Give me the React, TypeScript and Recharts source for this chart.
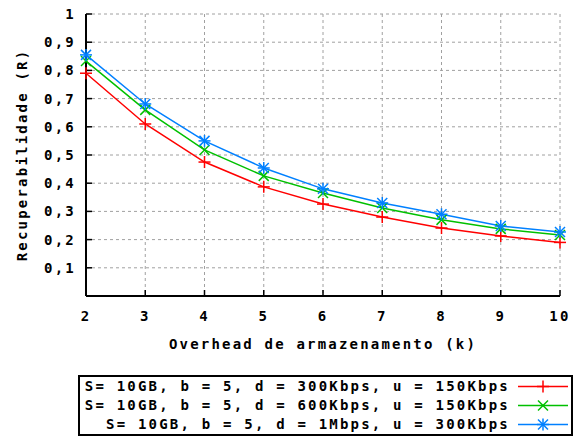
import React from 'react';
import {
  LineChart,
  Line,
  XAxis,
  YAxis,
  CartesianGrid,
} from 'recharts';

const overhead = [2, 3, 4, 5, 6, 7, 8, 9, 10];
const r300k = [0.79, 0.61, 0.475, 0.387, 0.326, 0.28, 0.241, 0.213, 0.19];
const r600k = [0.833, 0.66, 0.518, 0.426, 0.365, 0.312, 0.27, 0.238, 0.216];
const r1m = [0.855, 0.681, 0.55, 0.454, 0.38, 0.33, 0.29, 0.248, 0.227];
const yTicks = [0.1, 0.2, 0.3, 0.4, 0.5, 0.6, 0.7, 0.8, 0.9, 1];
const seriesNames = [
  'S= 10GB, b = 5, d = 300Kbps, u = 150Kbps',
  'S= 10GB, b = 5, d = 600Kbps, u = 150Kbps',
  'S= 10GB, b = 5, d = 1Mbps, u = 300Kbps',
];

const data = overhead.map((k, i) => ({
  k,
  a: r300k[i],
  b: r600k[i],
  c: r1m[i],
}));

const font = {
  fontFamily: '"DejaVu Sans Mono", monospace',
  fontWeight: 'bold',
  fontSize: 14,
  letterSpacing: 2.2,
  fill: '#000',
};

const RED = '#ff0000';
const GREEN = '#00c000';
const BLUE = '#0080ff';

const Marker = ({ cx, cy, kind, color }: any) => {
  if (cx == null || cy == null) return null;
  const p = 6;
  const x = 5;
  return (
    <g stroke={color} strokeWidth={1.5}>
      {(kind === 'plus' || kind === 'star') && (
        <>
          <line x1={cx - p} y1={cy} x2={cx + p} y2={cy} />
          <line x1={cx} y1={cy - p} x2={cx} y2={cy + p} />
        </>
      )}
      {(kind === 'cross' || kind === 'star') && (
        <>
          <line x1={cx - x} y1={cy - x} x2={cx + x} y2={cy + x} />
          <line x1={cx - x} y1={cy + x} x2={cx + x} y2={cy - x} />
        </>
      )}
    </g>
  );
};

const fmt = (v: number) => String(v).replace('.', ',');

const legendRows = [
  { name: seriesNames[0], color: RED, kind: 'plus' },
  { name: seriesNames[1], color: GREEN, kind: 'cross' },
  { name: seriesNames[2], color: BLUE, kind: 'star' },
];

const App = () => {
  return (
    <div style={{ position: 'absolute', left: 0, top: 0, width: 582, height: 441, background: '#fff' }}>
      <LineChart
        width={582}
        height={441}
        data={data}
        margin={{ top: 14, right: 22, bottom: 115, left: 0 }}
      >
        <CartesianGrid stroke="#a0a0a0" strokeDasharray="3 3" />
        <XAxis
          dataKey="k"
          type="number"
          domain={[2, 10]}
          ticks={overhead}
          height={30}
          tickSize={-6}
          tickMargin={21}
          axisLine={{ stroke: '#000', strokeWidth: 2 }}
          tickLine={{ stroke: '#000', strokeWidth: 1.5 }}
          tick={font}
          label={{ value: 'Overhead de armazenamento (k)', position: 'bottom', offset: 13, style: font }}
        />
        <XAxis
          xAxisId="top"
          orientation="top"
          dataKey="k"
          type="number"
          domain={[2, 10]}
          ticks={overhead}
          height={0}
          tickSize={-6}
          tick={false}
          axisLine={{ stroke: '#000', strokeWidth: 2 }}
          tickLine={{ stroke: '#000', strokeWidth: 1.5 }}
        />
        <YAxis
          type="number"
          domain={[0, 1]}
          ticks={yTicks}
          width={86}
          tickSize={-6}
          tickMargin={16}
          tickFormatter={fmt}
          axisLine={{ stroke: '#000', strokeWidth: 2 }}
          tickLine={{ stroke: '#000', strokeWidth: 1.5 }}
          tick={font}
          label={{
            value: 'Recuperabilidade (R)',
            angle: -90,
            position: 'insideLeft',
            offset: 22,
            style: { ...font, textAnchor: 'middle' },
          }}
        />
        <YAxis
          yAxisId="right"
          orientation="right"
          type="number"
          domain={[0, 1]}
          ticks={yTicks}
          width={0}
          tickSize={-6}
          tick={false}
          axisLine={{ stroke: '#000', strokeWidth: 2 }}
          tickLine={{ stroke: '#000', strokeWidth: 1.5 }}
        />
        <Line
          dataKey="a"
          name={seriesNames[0]}
          stroke={RED}
          strokeWidth={1.5}
          type="linear"
          isAnimationActive={false}
          dot={(p: any) => <Marker key={p.index} cx={p.cx} cy={p.cy} kind="plus" color={RED} />}
          activeDot={false}
        />
        <Line
          dataKey="b"
          name={seriesNames[1]}
          stroke={GREEN}
          strokeWidth={1.5}
          type="linear"
          isAnimationActive={false}
          dot={(p: any) => <Marker key={p.index} cx={p.cx} cy={p.cy} kind="cross" color={GREEN} />}
          activeDot={false}
        />
        <Line
          dataKey="c"
          name={seriesNames[2]}
          stroke={BLUE}
          strokeWidth={1.5}
          type="linear"
          isAnimationActive={false}
          dot={(p: any) => <Marker key={p.index} cx={p.cx} cy={p.cy} kind="star" color={BLUE} />}
          activeDot={false}
        />
      </LineChart>
      {/* legend box under the plot */}
      <div
        style={{
          position: 'absolute',
          left: 78,
          top: 375,
          width: 495,
          height: 61,
          boxSizing: 'border-box',
          border: '2px solid #000',
        }}
      >
        {legendRows.map((r) => (
          <div
            key={r.name}
            style={{
              height: 19,
              display: 'flex',
              justifyContent: 'flex-end',
              alignItems: 'center',
              overflow: 'hidden',
              paddingRight: 1,
            }}
          >
            <span
              style={{
                fontFamily: font.fontFamily,
                fontWeight: 'bold',
                fontSize: 14,
                letterSpacing: '2.2px',
                whiteSpace: 'pre',
                flexShrink: 0,
                lineHeight: '19px',
              }}
            >
              {r.name}
            </span>
            <svg width={60} height={19} style={{ flexShrink: 0 }}>
              <line x1={8} y1={9.5} x2={58} y2={9.5} stroke={r.color} strokeWidth={1.5} />
              <Marker cx={33} cy={9.5} kind={r.kind} color={r.color} />
            </svg>
          </div>
        ))}
      </div>
    </div>
  );
};

export default App;
